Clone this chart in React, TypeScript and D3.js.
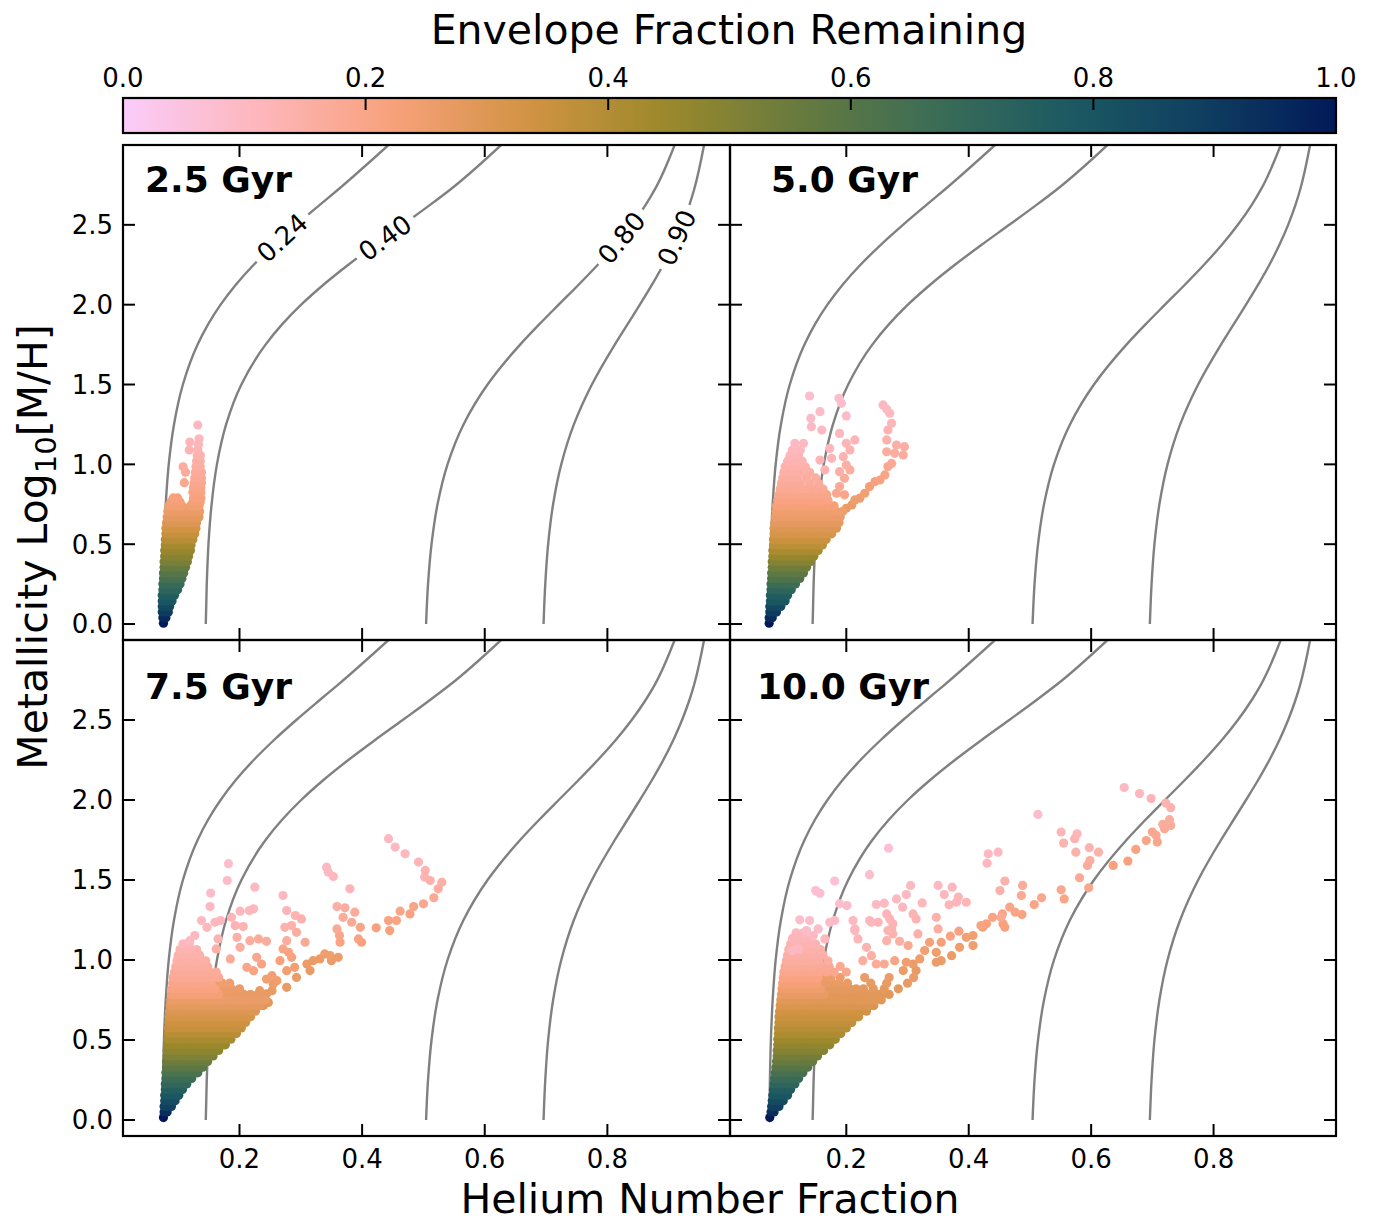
import React from 'react';
import * as d3 from 'd3';

// ---------------- data ----------------
const BATLOW_R = ['#FACCFA', '#FDB7BC', '#F8A17B', '#D29343', '#9D892B', '#687B3E', '#3C6D56', '#1C5A62', '#103F60', '#011959'];

const X_TICKS = [0.2, 0.4, 0.6, 0.8];
const X_TICK_LABELS = ['0.2', '0.4', '0.6', '0.8'];
const Y_TICKS = [0, 0.5, 1.0, 1.5, 2.0, 2.5];
const Y_TICK_LABELS = ['0.0', '0.5', '1.0', '1.5', '2.0', '2.5'];
const CB_TICKS = [0, 0.2, 0.4, 0.6, 0.8, 1.0];
const CB_TICK_LABELS = ['0.0', '0.2', '0.4', '0.6', '0.8', '1.0'];
const PANEL_TITLES = ['2.5 Gyr', '5.0 Gyr', '7.5 Gyr', '10.0 Gyr'];

// constant helium-mass-fraction curves (metallicity vs helium number fraction)
const CURVE_Y = [0, 0.25, 0.5, 0.75, 1.0, 1.25, 1.5, 1.75, 1.875, 2.0, 2.125, 2.25, 2.375, 2.5, 2.625, 2.72, 3.0];
const CURVE_024 = [0.0743, 0.0752, 0.0768, 0.0797, 0.0846, 0.0932, 0.1077, 0.1317, 0.1485, 0.1692, 0.1940, 0.2232, 0.2563, 0.2926, 0.3309, 0.3605, 0.4430];
const CURVE_040 = [0.1450, 0.1466, 0.1494, 0.1545, 0.1632, 0.1782, 0.2031, 0.2425, 0.2691, 0.3006, 0.3370, 0.3775, 0.4211, 0.4662, 0.5108, 0.5434, 0.6267];
const CURVE_080 = [0.5043, 0.5075, 0.5132, 0.5230, 0.5393, 0.5654, 0.6046, 0.6577, 0.6884, 0.7206, 0.7531, 0.7844, 0.8136, 0.8397, 0.8624, 0.8772, 0.9097];
const CURVE_090 = [0.6959, 0.6987, 0.7034, 0.7115, 0.7248, 0.7454, 0.7748, 0.8121, 0.8325, 0.8530, 0.8728, 0.8912, 0.9076, 0.9218, 0.9338, 0.9414, 0.9577];
const CURVE_LEVELS = ['0.24', '0.40', '0.80', '0.90'];
const CURVE_XS = [CURVE_024, CURVE_040, CURVE_080, CURVE_090];

// scatter: rows [metallicity, envelope fraction, helium fraction x1000 ...]
const TL_ROWS: [number, number, number[]][] = [
  [0.005, 1.00, [76]],
  [0.040, 0.95, [75, 80]],
  [0.075, 0.90, [74, 79, 84]],
  [0.110, 0.85, [74, 80, 86]],
  [0.145, 0.80, [74, 80, 86, 90]],
  [0.180, 0.76, [74, 81, 88, 94]],
  [0.215, 0.72, [75, 82, 89, 96, 99]],
  [0.250, 0.68, [75, 82, 89, 96, 103]],
  [0.285, 0.64, [76, 83, 90, 97, 104, 106]],
  [0.320, 0.60, [76, 83, 90, 97, 104, 109]],
  [0.355, 0.56, [77, 84, 91, 98, 105, 112]],
  [0.390, 0.52, [77, 84, 91, 98, 105, 112, 115]],
  [0.425, 0.49, [78, 85, 92, 99, 106, 113, 117]],
  [0.460, 0.46, [78, 85, 92, 99, 106, 113, 120]],
  [0.495, 0.43, [79, 86, 93, 100, 107, 114, 121]],
  [0.530, 0.39, [79, 86, 93, 100, 107, 114, 121, 124]],
  [0.565, 0.36, [80, 87, 94, 101, 108, 115, 122, 127]],
  [0.600, 0.33, [80, 87, 94, 101, 108, 115, 122, 129]],
  [0.635, 0.30, [81, 88, 95, 102, 109, 116, 123, 130]],
  [0.670, 0.28, [82, 89, 96, 103, 110, 117, 124, 131, 134]],
  [0.705, 0.26, [83, 90, 97, 104, 111, 118, 125, 132, 135]],
  [0.740, 0.24, [85, 92, 99, 106, 120, 127, 134]],
  [0.765, 0.23, [88, 96, 103, 124, 130, 136]],
  [0.790, 0.22, [92, 99, 125, 131, 137]],
  [0.825, 0.21, [124, 131, 137]],
  [0.855, 0.20, [125, 132, 137]],
  [0.885, 0.19, [110, 126, 133, 138]],
  [0.915, 0.18, [127, 134, 138]],
  [0.950, 0.17, [112, 128, 135, 138]],
  [0.985, 0.16, [108, 129, 136]],
  [1.020, 0.15, [130, 136]],
  [1.055, 0.14, [131, 136]],
  [1.090, 0.13, [118, 132]],
  [1.125, 0.12, [133]],
  [1.160, 0.11, [134]],
];
const TL_PTS: [number, number, number][] = [[0.132, 1.246, 0.10], [0.119, 1.14, 0.12]];

const TR_ROWS: [number, number, number[]][] = [
  [0.005, 1.00, [74]],
  [0.040, 0.95, [74, 79]],
  [0.075, 0.90, [75, 81, 86]],
  [0.110, 0.85, [75, 82, 89, 93]],
  [0.145, 0.80, [76, 83, 90, 97, 100]],
  [0.180, 0.76, [76, 83, 90, 97, 104]],
  [0.215, 0.72, [77, 84, 91, 98, 105, 110]],
  [0.250, 0.67, [77, 84, 91, 98, 105, 112, 117]],
  [0.285, 0.62, [78, 85, 92, 99, 106, 113, 120, 124]],
  [0.320, 0.58, [78, 85, 92, 99, 106, 113, 120, 127, 130]],
  [0.355, 0.54, [79, 86, 93, 100, 107, 114, 121, 128, 135]],
  [0.390, 0.50, [79, 86, 93, 100, 107, 114, 121, 128, 135, 141]],
  [0.425, 0.46, [80, 87, 94, 101, 108, 115, 122, 129, 136, 143, 147]],
  [0.460, 0.42, [80, 87, 94, 101, 108, 115, 122, 129, 136, 143, 150, 154]],
  [0.495, 0.38, [81, 88, 95, 102, 109, 116, 123, 130, 137, 144, 151, 158, 161]],
  [0.530, 0.35, [81, 88, 95, 102, 109, 116, 123, 130, 137, 144, 151, 158, 165, 167]],
  [0.565, 0.32, [82, 89, 96, 103, 110, 117, 124, 131, 138, 145, 152, 159, 166, 173, 176]],
  [0.600, 0.30, [82, 89, 96, 103, 110, 117, 124, 131, 138, 145, 152, 159, 166, 173, 180, 184]],
  [0.635, 0.28, [83, 90, 97, 104, 111, 118, 125, 132, 139, 146, 153, 160, 167, 174, 181, 188]],
  [0.670, 0.26, [84, 91, 98, 105, 112, 119, 126, 133, 140, 147, 154, 161, 168, 175, 182, 190]],
  [0.705, 0.25, [85, 92, 99, 106, 113, 120, 127, 134, 141, 148, 155, 162, 169, 176, 184, 194]],
  [0.740, 0.23, [86, 93, 100, 107, 114, 121, 128, 135, 142, 149, 156, 164, 172, 180]],
  [0.775, 0.21, [88, 95, 102, 109, 116, 123, 130, 137, 144, 152, 160, 170]],
  [0.810, 0.20, [90, 97, 104, 111, 118, 125, 132, 140, 148, 158, 168]],
  [0.845, 0.18, [92, 99, 106, 113, 120, 128, 138, 150, 162]],
  [0.880, 0.17, [94, 101, 108, 115, 125, 140, 155]],
  [0.915, 0.16, [96, 104, 112, 120, 135, 150]],
  [0.950, 0.15, [98, 106, 114, 125, 140]],
  [0.985, 0.14, [100, 110, 120, 133]],
  [1.020, 0.13, [104, 115, 128]],
  [1.055, 0.12, [108, 122]],
  [1.090, 0.11, [112, 125]],
];
const TR_PTS: [number, number, number][] = [
  [0.140, 1.428, 0.08], [0.157, 1.330, 0.09], [0.142, 1.288, 0.09], [0.188, 1.414, 0.08], [0.192, 1.382, 0.08],
  [0.200, 1.303, 0.09], [0.160, 1.215, 0.10], [0.143, 1.236, 0.10], [0.189, 1.194, 0.11], [0.214, 1.153, 0.12],
  [0.200, 1.132, 0.12], [0.206, 1.090, 0.13], [0.173, 1.100, 0.11], [0.130, 1.132, 0.10], [0.116, 1.132, 0.10],
  [0.260, 1.372, 0.10], [0.271, 1.320, 0.11], [0.266, 1.345, 0.10], [0.274, 1.257, 0.12], [0.268, 1.215, 0.13],
  [0.266, 1.153, 0.14], [0.282, 1.121, 0.15], [0.295, 1.111, 0.15], [0.266, 1.079, 0.16], [0.279, 1.069, 0.16],
  [0.293, 1.059, 0.16], [0.274, 1.006, 0.18], [0.268, 0.986, 0.19], [0.263, 0.934, 0.20], [0.255, 0.902, 0.21],
  [0.247, 0.892, 0.22], [0.238, 0.861, 0.23], [0.230, 0.819, 0.24], [0.222, 0.788, 0.25], [0.214, 0.777, 0.25],
  [0.209, 0.746, 0.26], [0.200, 0.725, 0.27],
  [0.195, 1.048, 0.13], [0.200, 0.996, 0.15], [0.206, 0.965, 0.16], [0.189, 0.954, 0.15], [0.197, 0.913, 0.17],
  [0.189, 0.861, 0.18], [0.197, 0.809, 0.20], [0.184, 0.819, 0.19], [0.176, 1.038, 0.12], [0.165, 0.965, 0.13],
  [0.157, 1.027, 0.12],
];

const BL_ROWS: [number, number, number[]][] = [
  [0.015, 1.00, [76]],
  [0.050, 0.94, [77, 82]],
  [0.085, 0.89, [77, 83, 89]],
  [0.120, 0.84, [78, 85, 92, 95]],
  [0.155, 0.79, [78, 85, 92, 99, 101]],
  [0.190, 0.75, [79, 86, 93, 100, 107]],
  [0.225, 0.71, [79, 86, 93, 100, 107, 114]],
  [0.260, 0.67, [80, 87, 94, 101, 108, 115, 122]],
  [0.295, 0.63, [80, 87, 94, 101, 108, 115, 122, 129, 132]],
  [0.330, 0.59, [81, 88, 95, 102, 109, 116, 123, 130, 137, 140]],
  [0.365, 0.55, [81, 88, 95, 102, 109, 116, 123, 130, 137, 144, 148]],
  [0.400, 0.51, [82, 89, 96, 103, 110, 117, 124, 131, 138, 145, 152, 157]],
  [0.435, 0.48, [82, 89, 96, 103, 110, 117, 124, 131, 138, 145, 152, 159, 166]],
  [0.470, 0.45, [83, 90, 97, 104, 111, 118, 125, 132, 139, 146, 153, 160, 167, 174, 177]],
  [0.505, 0.42, [83, 90, 97, 104, 111, 118, 125, 132, 139, 146, 153, 160, 167, 174, 181, 186]],
  [0.540, 0.39, [84, 91, 98, 105, 112, 119, 126, 133, 140, 147, 154, 161, 168, 175, 182, 189, 195]],
  [0.575, 0.36, [84, 91, 98, 105, 112, 119, 126, 133, 140, 147, 154, 161, 168, 175, 182, 189, 196, 203]],
  [0.610, 0.34, [85, 92, 99, 106, 113, 120, 127, 134, 141, 148, 155, 162, 169, 176, 183, 190, 197, 204, 210]],
  [0.645, 0.32, [85, 92, 99, 106, 113, 120, 127, 134, 141, 148, 155, 162, 169, 176, 183, 190, 197, 204, 211, 218]],
  [0.680, 0.30, [86, 93, 100, 107, 114, 121, 128, 135, 142, 149, 156, 163, 170, 177, 184, 191, 198, 205, 212, 219, 226]],
  [0.715, 0.28, [87, 94, 101, 108, 115, 122, 129, 136, 143, 150, 157, 164, 171, 178, 185, 192, 199, 206, 213, 220, 227, 234]],
  [0.750, 0.26, [88, 95, 102, 109, 116, 123, 130, 137, 144, 151, 158, 165, 172, 179, 186, 193, 200, 207, 214, 221, 228, 235, 242]],
  [0.785, 0.23, [89, 96, 103, 110, 117, 124, 131, 138, 145, 152, 159, 166]],
  [0.785, 0.27, [173, 180, 188, 197, 207, 218, 230]],
  [0.820, 0.21, [90, 97, 104, 111, 118, 125, 132, 139, 146, 153, 160]],
  [0.820, 0.26, [168, 177, 187, 200]],
  [0.855, 0.20, [91, 98, 105, 112, 119, 126, 133, 140, 147, 154]],
  [0.855, 0.25, [163, 172, 184]],
  [0.890, 0.18, [92, 99, 106, 113, 120, 127, 134, 141, 148, 156, 166]],
  [0.925, 0.17, [94, 101, 108, 115, 122, 129, 136, 143, 152, 162]],
  [0.960, 0.16, [96, 103, 110, 117, 124, 131, 138, 148]],
  [0.995, 0.15, [98, 105, 112, 119, 126, 134, 145]],
  [1.030, 0.14, [100, 108, 116, 124, 135]],
  [1.065, 0.13, [103, 112, 121, 130]],
  [1.100, 0.12, [108, 118]],
];
const BL_PTS: [number, number, number][] = [
  [0.443, 1.758, 0.10], [0.454, 1.706, 0.10], [0.470, 1.664, 0.11], [0.492, 1.612, 0.12], [0.503, 1.560, 0.13],
  [0.502, 1.518, 0.13], [0.511, 1.497, 0.14], [0.530, 1.486, 0.15], [0.524, 1.445, 0.16], [0.517, 1.389, 0.18],
  [0.500, 1.351, 0.19], [0.484, 1.334, 0.20], [0.478, 1.288, 0.21], [0.462, 1.305, 0.20], [0.456, 1.247, 0.21],
  [0.443, 1.247, 0.21], [0.445, 1.184, 0.22], [0.423, 1.201, 0.22],
  [0.342, 1.580, 0.10], [0.345, 1.549, 0.10], [0.353, 1.522, 0.11], [0.380, 1.445, 0.12], [0.359, 1.334, 0.15],
  [0.372, 1.326, 0.16], [0.388, 1.299, 0.17], [0.369, 1.267, 0.17], [0.383, 1.236, 0.18], [0.397, 1.204, 0.20],
  [0.359, 1.194, 0.18], [0.363, 1.153, 0.20], [0.364, 1.111, 0.21], [0.394, 1.132, 0.21], [0.399, 1.111, 0.22],
  [0.361, 1.017, 0.26], [0.348, 1.027, 0.25], [0.339, 1.038, 0.25], [0.331, 1.007, 0.26], [0.320, 0.996, 0.26],
  [0.310, 0.975, 0.26], [0.315, 0.934, 0.27], [0.350, 0.996, 0.26],
  [0.271, 1.403, 0.10], [0.277, 1.309, 0.12], [0.291, 1.278, 0.13], [0.301, 1.257, 0.14], [0.274, 1.204, 0.14],
  [0.285, 1.215, 0.14], [0.293, 1.173, 0.16], [0.307, 1.111, 0.18], [0.277, 1.121, 0.16], [0.271, 1.069, 0.20],
  [0.280, 1.048, 0.21], [0.266, 0.996, 0.22], [0.285, 1.017, 0.22], [0.290, 0.954, 0.24], [0.277, 0.933, 0.24],
  [0.293, 0.891, 0.26], [0.253, 0.902, 0.24], [0.261, 0.871, 0.25], [0.277, 0.829, 0.27], [0.255, 0.850, 0.26],
  [0.244, 0.881, 0.24],
  [0.182, 1.602, 0.08], [0.180, 1.497, 0.09], [0.225, 1.455, 0.10], [0.153, 1.418, 0.09], [0.152, 1.334, 0.10],
  [0.223, 1.320, 0.11], [0.216, 1.309, 0.11], [0.201, 1.305, 0.11], [0.187, 1.267, 0.12], [0.169, 1.247, 0.11],
  [0.160, 1.236, 0.11], [0.138, 1.247, 0.10], [0.147, 1.204, 0.11], [0.193, 1.215, 0.13], [0.206, 1.209, 0.13],
  [0.196, 1.142, 0.15], [0.231, 1.132, 0.17], [0.244, 1.117, 0.17], [0.217, 1.121, 0.16], [0.228, 1.017, 0.19],
  [0.212, 0.954, 0.20], [0.223, 0.933, 0.21], [0.236, 0.975, 0.21], [0.119, 1.121, 0.10], [0.127, 1.153, 0.11],
  [0.108, 1.100, 0.11], [0.165, 1.132, 0.13], [0.162, 1.069, 0.15], [0.201, 1.079, 0.16], [0.185, 1.007, 0.17],
  [0.244, 0.788, 0.27], [0.253, 0.808, 0.27], [0.233, 0.808, 0.27], [0.223, 0.767, 0.28], [0.247, 0.735, 0.29],
  [0.239, 0.715, 0.30],
];

const BR_ROWS: [number, number, number[]][] = [
  [0.015, 1.00, [75]],
  [0.050, 0.94, [77, 82]],
  [0.085, 0.89, [78, 84, 90]],
  [0.120, 0.84, [79, 86, 93, 97]],
  [0.155, 0.80, [80, 87, 94, 101, 104]],
  [0.190, 0.76, [81, 88, 95, 102, 109]],
  [0.225, 0.72, [82, 89, 96, 103, 110, 116]],
  [0.260, 0.68, [83, 90, 97, 104, 111, 118, 122]],
  [0.295, 0.64, [84, 91, 98, 105, 112, 119, 126, 129]],
  [0.330, 0.60, [85, 92, 99, 106, 113, 120, 127, 134, 137]],
  [0.365, 0.56, [86, 93, 100, 107, 114, 121, 128, 135, 142, 145]],
  [0.400, 0.53, [87, 94, 101, 108, 115, 122, 129, 136, 143, 150, 153]],
  [0.435, 0.50, [87, 94, 101, 108, 115, 122, 129, 136, 143, 150, 157, 163]],
  [0.470, 0.47, [88, 95, 102, 109, 116, 123, 130, 137, 144, 151, 158, 165, 173]],
  [0.505, 0.44, [88, 95, 102, 109, 116, 123, 130, 137, 144, 151, 158, 165, 172, 179, 182]],
  [0.540, 0.41, [89, 96, 103, 110, 117, 124, 131, 138, 145, 152, 159, 166, 173, 180, 187, 191]],
  [0.575, 0.39, [89, 96, 103, 110, 117, 124, 131, 138, 145, 152, 159, 166, 173, 180, 187, 194, 200]],
  [0.610, 0.37, [90, 97, 104, 111, 118, 125, 132, 139, 146, 153, 160, 167, 174, 181, 188, 195, 202, 209]],
  [0.645, 0.35, [90, 97, 104, 111, 118, 125, 132, 139, 146, 153, 160, 167, 174, 181, 188, 195, 202, 209, 216, 220]],
  [0.680, 0.33, [91, 98, 105, 112, 119, 126, 133, 140, 147, 154, 161, 168, 175, 182, 189, 196, 203, 210, 217, 224, 233]],
  [0.715, 0.31, [92, 99, 106, 113, 120, 127, 134, 141, 148, 155, 162, 169, 176, 183, 190, 197, 204, 211, 218, 225, 232, 239, 245]],
  [0.750, 0.29, [93, 100, 107, 114, 121, 128, 135, 142, 149, 156, 163, 170, 177, 184, 191, 198, 205, 212, 219, 226, 233, 240, 247, 257]],
  [0.785, 0.27, [94, 101, 108, 115, 122, 129, 136, 143, 150, 157, 164]],
  [0.785, 0.29, [171, 178, 185, 192, 199, 206, 213, 220, 228, 236, 244, 252, 260, 270]],
  [0.820, 0.25, [95, 102, 109, 116, 123, 130, 137, 144, 151, 158]],
  [0.820, 0.28, [166, 174, 182, 190, 198, 206, 216, 228, 244, 262, 285]],
  [0.855, 0.23, [96, 103, 110, 117, 124, 131, 138, 145, 152]],
  [0.855, 0.27, [160, 168, 177, 188, 202, 240, 266, 300]],
  [0.890, 0.21, [97, 104, 111, 118, 125, 132, 139, 146, 154]],
  [0.890, 0.26, [164, 175, 190, 230, 270, 310]],
  [0.925, 0.19, [98, 105, 112, 119, 126, 133, 140, 148, 157, 168, 180, 200]],
  [0.960, 0.18, [100, 107, 114, 121, 128, 135, 142, 150, 160, 172, 190]],
  [0.995, 0.16, [102, 109, 116, 123, 130, 137, 145, 155, 170]],
  [1.030, 0.15, [104, 111, 118, 125, 132, 140, 150, 162]],
  [1.065, 0.14, [106, 113, 120, 127, 135, 145, 158]],
  [1.100, 0.13, [109, 116, 123, 131, 140, 150]],
  [1.135, 0.12, [112, 120, 130, 142]],
  [1.170, 0.11, [118, 130]],
];
const BR_PTS: [number, number, number][] = [
  [0.654, 2.078, 0.10], [0.679, 2.040, 0.11], [0.698, 2.009, 0.12], [0.722, 1.981, 0.13], [0.730, 1.952, 0.14],
  [0.728, 1.877, 0.16], [0.730, 1.841, 0.17], [0.717, 1.848, 0.17], [0.720, 1.821, 0.18], [0.700, 1.800, 0.19],
  [0.706, 1.779, 0.19], [0.708, 1.737, 0.20], [0.690, 1.747, 0.20], [0.673, 1.691, 0.21], [0.660, 1.618, 0.22],
  [0.636, 1.591, 0.22],
  [0.513, 1.910, 0.08], [0.551, 1.800, 0.12], [0.577, 1.789, 0.12], [0.573, 1.758, 0.13], [0.555, 1.731, 0.13],
  [0.597, 1.702, 0.13], [0.575, 1.674, 0.14], [0.612, 1.674, 0.14], [0.598, 1.622, 0.16], [0.594, 1.591, 0.17],
  [0.581, 1.514, 0.18], [0.596, 1.451, 0.19], [0.551, 1.439, 0.19], [0.556, 1.382, 0.20],
  [0.519, 1.389, 0.19], [0.507, 1.347, 0.20], [0.488, 1.466, 0.17], [0.486, 1.403, 0.18], [0.476, 1.299, 0.20],
  [0.487, 1.284, 0.21], [0.467, 1.330, 0.20], [0.456, 1.226, 0.22], [0.455, 1.288, 0.21], [0.439, 1.267, 0.21],
  [0.429, 1.226, 0.22], [0.423, 1.205, 0.23], [0.407, 1.153, 0.24], [0.396, 1.142, 0.24], [0.407, 1.090, 0.25],
  [0.385, 1.079, 0.25], [0.372, 1.027, 0.26], [0.355, 0.996, 0.26], [0.347, 0.986, 0.26], [0.347, 1.048, 0.25],
  [0.336, 1.111, 0.23], [0.355, 1.111, 0.23], [0.384, 1.180, 0.21], [0.370, 1.149, 0.21], [0.328, 1.059, 0.24],
  [0.320, 1.007, 0.25], [0.309, 0.975, 0.26], [0.314, 0.934, 0.27], [0.298, 0.986, 0.25], [0.293, 0.934, 0.26],
  [0.269, 1.699, 0.07], [0.238, 1.533, 0.08], [0.181, 1.493, 0.07], [0.150, 1.434, 0.07], [0.157, 1.417, 0.07],
  [0.189, 1.351, 0.08], [0.201, 1.340, 0.09], [0.249, 1.347, 0.10], [0.262, 1.355, 0.10], [0.282, 1.382, 0.10],
  [0.298, 1.409, 0.10], [0.305, 1.466, 0.10], [0.292, 1.330, 0.11], [0.324, 1.357, 0.11], [0.350, 1.466, 0.10],
  [0.360, 1.409, 0.11], [0.373, 1.455, 0.11], [0.383, 1.393, 0.12], [0.368, 1.345, 0.12], [0.380, 1.361, 0.12],
  [0.396, 1.361, 0.12], [0.432, 1.664, 0.10], [0.448, 1.674, 0.10], [0.430, 1.605, 0.11], [0.451, 1.434, 0.14],
  [0.459, 1.493, 0.14], [0.453, 1.267, 0.18],
  [0.266, 1.288, 0.12], [0.271, 1.257, 0.12], [0.309, 1.288, 0.13], [0.314, 1.257, 0.13], [0.252, 1.236, 0.12],
  [0.274, 1.194, 0.13], [0.276, 1.163, 0.14], [0.266, 1.121, 0.14], [0.287, 1.117, 0.15], [0.238, 1.247, 0.11],
  [0.211, 1.247, 0.10], [0.214, 1.194, 0.11], [0.219, 1.132, 0.12], [0.233, 1.079, 0.13], [0.241, 1.027, 0.15],
  [0.227, 0.996, 0.16], [0.249, 0.975, 0.17], [0.262, 0.975, 0.18], [0.279, 0.996, 0.20], [0.317, 1.163, 0.15],
  [0.301, 1.090, 0.18], [0.347, 1.267, 0.14], [0.350, 1.194, 0.16], [0.420, 1.215, 0.21], [0.459, 1.205, 0.22],
  [0.151, 1.430, 0.07], [0.124, 1.251, 0.08], [0.140, 1.247, 0.08], [0.154, 1.194, 0.09], [0.173, 1.236, 0.09],
  [0.181, 1.247, 0.09], [0.135, 1.184, 0.09], [0.146, 1.153, 0.10], [0.165, 1.132, 0.11], [0.111, 1.059, 0.10],
  [0.122, 1.069, 0.10], [0.214, 1.184, 0.11], [0.241, 1.236, 0.11], [0.268, 1.184, 0.13], [0.276, 1.226, 0.13],
];

// ---------------- layout ----------------
const W = 1375;
const H = 1222;
const COLS = [[123, 730], [730, 1336]];
const ROWS = [[145, 640], [640, 1136]];
const X_DOMAIN = [0.01, 1.0];
const Y_DOMAIN = [-0.1, 3.0];
const TITLE_X = [145, 771, 145, 757];
const TITLE_DY = [47, 47, 59, 59];
const FONT = '"DejaVu Sans", Verdana, sans-serif';
const TICK_LEN = 12;
const LABEL_Y = 2.42;

const cmap = d3.scaleLinear<string>()
  .domain(BATLOW_R.map((_, i) => i / (BATLOW_R.length - 1)))
  .range(BATLOW_R)
  .interpolate(d3.interpolateRgb)
  .clamp(true);

function toPoints(rows: [number, number, number[]][], pts: [number, number, number][]) {
  const out: { x: number; y: number; f: number }[] = [];
  rows.forEach(([y, f, xs]) => xs.forEach((x) => out.push({ x: x / 1000, y, f })));
  pts.forEach(([x, y, f]) => out.push({ x, y, f }));
  return out;
}

const PANEL_DATA = [
  toPoints(TL_ROWS, TL_PTS),
  toPoints(TR_ROWS, TR_PTS),
  toPoints(BL_ROWS, BL_PTS),
  toPoints(BR_ROWS, BR_PTS),
];

function Panel({ idx }: { idx: number }) {
  const col = idx % 2;
  const row = Math.floor(idx / 2);
  const [x0, x1] = COLS[col];
  const [y0, y1] = ROWS[row];
  const xs = d3.scaleLinear().domain(X_DOMAIN).range([x0, x1]);
  const ys = d3.scaleLinear().domain(Y_DOMAIN).range([y1, y0]);
  const clipId = `clip${idx}`;
  const line = d3.line<[number, number]>()
    .x((d) => xs(d[0]))
    .y((d) => ys(d[1]))
    .curve(d3.curveMonotoneY);
  const pts = PANEL_DATA[idx].slice().sort((a, b) => b.f - a.f);
  const showLabels = idx === 0;

  const labels = CURVE_XS.map((cx, i) => {
    const interp = d3.scaleLinear().domain(CURVE_Y).range(cx);
    const lx = interp(LABEL_Y);
    const pA = [xs(interp(LABEL_Y - 0.08)), ys(LABEL_Y - 0.08)];
    const pB = [xs(interp(LABEL_Y + 0.08)), ys(LABEL_Y + 0.08)];
    const ang = (Math.atan2(pB[1] - pA[1], pB[0] - pA[0]) * 180) / Math.PI;
    return { text: CURVE_LEVELS[i], px: xs(lx), py: ys(LABEL_Y), ang };
  });

  return (
    <g>
      <defs>
        <clipPath id={clipId}>
          <rect x={x0} y={y0} width={x1 - x0} height={y1 - y0} />
        </clipPath>
      </defs>
      <g clipPath={`url(#${clipId})`}>
        {CURVE_XS.map((cx, i) => (
          <path
            key={i}
            d={line(CURVE_Y.map((y, j) => [cx[j], y] as [number, number])) || ''}
            fill="none"
            stroke="#808080"
            strokeWidth={2.4}
          />
        ))}
        {showLabels &&
          labels.map((l, i) => (
            <g key={i} transform={`translate(${l.px},${l.py}) rotate(${l.ang})`}>
              <rect x={-35} y={-13} width={70} height={26} fill="white" />
              <text
                x={0}
                y={0}
                dy="0.36em"
                textAnchor="middle"
                fontFamily={FONT}
                fontSize={26}
                fill="#000"
              >
                {l.text}
              </text>
            </g>
          ))}
        {pts.map((p, i) => (
          <circle key={i} cx={xs(p.x)} cy={ys(p.y)} r={4.6} fill={cmap(p.f)} />
        ))}
      </g>
      {X_TICKS.map((t, i) => (
        <g key={`xt${i}`}>
          <line x1={xs(t)} x2={xs(t)} y1={y1} y2={y1 - TICK_LEN} stroke="#000" strokeWidth={2} />
          <line x1={xs(t)} x2={xs(t)} y1={y0} y2={y0 + TICK_LEN} stroke="#000" strokeWidth={2} />
        </g>
      ))}
      {Y_TICKS.map((t, i) => (
        <g key={`yt${i}`}>
          <line x1={x0} x2={x0 + TICK_LEN} y1={ys(t)} y2={ys(t)} stroke="#000" strokeWidth={2} />
          <line x1={x1} x2={x1 - TICK_LEN} y1={ys(t)} y2={ys(t)} stroke="#000" strokeWidth={2} />
        </g>
      ))}
      <rect x={x0} y={y0} width={x1 - x0} height={y1 - y0} fill="none" stroke="#000" strokeWidth={2.2} />
      {row === 1 &&
        X_TICKS.map((t, i) => (
          <text key={`xl${i}`} x={xs(t)} y={y1 + 32} textAnchor="middle" fontFamily={FONT} fontSize={26}>
            {X_TICK_LABELS[i]}
          </text>
        ))}
      {col === 0 &&
        Y_TICKS.map((t, i) => (
          <text key={`yl${i}`} x={x0 - 10} y={ys(t)} dy="0.36em" textAnchor="end" fontFamily={FONT} fontSize={26}>
            {Y_TICK_LABELS[i]}
          </text>
        ))}
      <text x={TITLE_X[idx]} y={y0 + TITLE_DY[idx]} fontFamily={FONT} fontSize={36} fontWeight="bold">
        {PANEL_TITLES[idx]}
      </text>
    </g>
  );
}

function Colorbar() {
  const cx0 = 123;
  const cx1 = 1336;
  const cy0 = 98;
  const cy1 = 133;
  const cs = d3.scaleLinear().domain([0, 1]).range([cx0, cx1]);
  const stops = d3.range(0, 1.0001, 0.02);
  return (
    <g>
      <defs>
        <linearGradient id="cbgrad" x1="0" x2="1" y1="0" y2="0">
          {stops.map((s, i) => (
            <stop key={i} offset={s} stopColor={cmap(s)} />
          ))}
        </linearGradient>
      </defs>
      <rect x={cx0} y={cy0} width={cx1 - cx0} height={cy1 - cy0} fill="url(#cbgrad)" />
      {CB_TICKS.map((t, i) => (
        <g key={i}>
          <line x1={cs(t)} x2={cs(t)} y1={cy0} y2={cy0 + 12} stroke="#000" strokeWidth={2} />
          <text x={cs(t)} y={cy0 - 11} textAnchor="middle" fontFamily={FONT} fontSize={26}>
            {CB_TICK_LABELS[i]}
          </text>
        </g>
      ))}
      <rect x={cx0} y={cy0} width={cx1 - cx0} height={cy1 - cy0} fill="none" stroke="#000" strokeWidth={2.2} />
      <text x={729} y={44} textAnchor="middle" fontFamily={FONT} fontSize={41}>
        Envelope Fraction Remaining
      </text>
    </g>
  );
}

export default function App() {
  return (
    <svg
      width={W}
      height={H}
      viewBox={`0 0 ${W} ${H}`}
      style={{ position: 'absolute', left: 0, top: 0, background: '#fff' }}
    >
      <rect x={0} y={0} width={W} height={H} fill="#fff" />
      <Colorbar />
      {[0, 1, 2, 3].map((i) => (
        <Panel key={i} idx={i} />
      ))}
      <text x={710} y={1213} textAnchor="middle" fontFamily={FONT} fontSize={41}>
        Helium Number Fraction
      </text>
      <text
        transform="translate(47,547) rotate(-90)"
        textAnchor="middle"
        fontFamily={FONT}
        fontSize={41}
      >
        Metallicity Log
        <tspan fontSize={29} dy={9}>10</tspan>
        <tspan dy={-9}>[M/H]</tspan>
      </text>
    </svg>
  );
}
